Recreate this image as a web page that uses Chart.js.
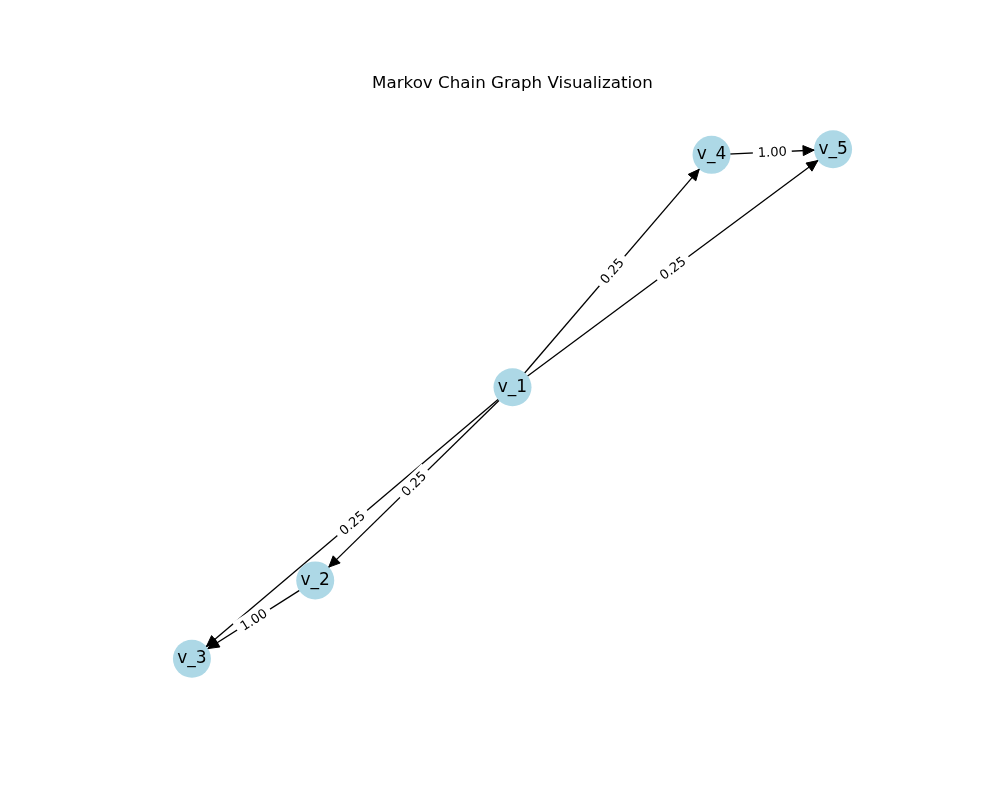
<!DOCTYPE html>
<html>
<head>
<meta charset="utf-8">
<script src="https://cdn.jsdelivr.net/npm/chart.js@4.4.0/dist/chart.umd.min.js"></script>
<style>
  html, body { margin: 0; padding: 0; background: #fff; }
  #wrap { width: 1000px; height: 800px; }
</style>
</head>
<body>
<div id="wrap"><canvas id="graphChart" width="1000" height="800"></canvas></div>
<script>
// nodes of the chain and their layout positions
const nodeNames = ["v_1", "v_2", "v_3", "v_4", "v_5"];
const nodeX = [0.00, -0.56, -0.91, 0.565, 0.91];
const nodeY = [0.06, -0.63, -0.91, 0.89, 0.91];

// transitions (index into nodeNames) and their probabilities
const edgeFrom = [0, 0, 0, 0, 1, 3];
const edgeTo = [3, 4, 1, 2, 2, 4];
const edgeProb = [0.25, 0.25, 0.25, 0.25, 1.00, 1.00];

const NODE_R = 19;
const FONT = "'DejaVu Sans', sans-serif";

const nodePoints = nodeNames.map((n, i) => ({ x: nodeX[i], y: nodeY[i] }));

const edgeSets = edgeFrom.map((f, i) => ({
    type: "scatter",
    showLine: true,
    data: [nodePoints[f], nodePoints[edgeTo[i]]],
    borderColor: "#000",
    borderWidth: 1.3,
    pointRadius: 0,
    order: 2,
}));

// arrowheads, edge labels and node names
const graphDecor = {
    id: "graphDecor",
    afterDatasetsDraw(chart) {
        const { ctx, scales } = chart;
        const px = (i) => scales.x.getPixelForValue(nodeX[i]);
        const py = (i) => scales.y.getPixelForValue(nodeY[i]);
        ctx.save();

        // arrowheads
        edgeFrom.forEach((f, i) => {
            const t = edgeTo[i];
            const x1 = px(f), y1 = py(f), x2 = px(t), y2 = py(t);
            const a = Math.atan2(y2 - y1, x2 - x1);
            const tipX = x2 - Math.cos(a) * NODE_R;
            const tipY = y2 - Math.sin(a) * NODE_R;
            const len = 11, half = 5;
            const bx = tipX - Math.cos(a) * len, by = tipY - Math.sin(a) * len;
            ctx.beginPath();
            ctx.moveTo(tipX, tipY);
            ctx.lineTo(bx - Math.sin(a) * half, by + Math.cos(a) * half);
            ctx.lineTo(bx + Math.sin(a) * half, by - Math.cos(a) * half);
            ctx.closePath();
            ctx.fillStyle = "#000";
            ctx.strokeStyle = "#000";
            ctx.lineWidth = 1;
            ctx.fill();
            ctx.stroke();
        });

        // edge labels with white box
        ctx.font = "13px " + FONT;
        ctx.textAlign = "center";
        ctx.textBaseline = "middle";
        edgeFrom.forEach((f, i) => {
            const t = edgeTo[i];
            const x1 = px(f), y1 = py(f), x2 = px(t), y2 = py(t);
            let a = Math.atan2(y2 - y1, x2 - x1);
            if (a > Math.PI / 2) a -= Math.PI;
            if (a < -Math.PI / 2) a += Math.PI;
            const txt = edgeProb[i].toFixed(2);
            const w = ctx.measureText(txt).width;
            ctx.save();
            ctx.translate((x1 + x2) / 2, (y1 + y2) / 2);
            ctx.rotate(a);
            ctx.fillStyle = "#fff";
            ctx.fillRect(-w / 2 - 5, -9, w + 10, 18);
            ctx.fillStyle = "#000";
            ctx.fillText(txt, 0, 1);
            ctx.restore();
        });

        // node labels
        ctx.font = "17px " + FONT;
        ctx.fillStyle = "#000";
        nodeNames.forEach((n, i) => {
            ctx.fillText(n, px(i), py(i));
        });
        ctx.restore();
    },
};

new Chart(document.getElementById("graphChart"), {
    type: "scatter",
    data: {
        datasets: [
            {
                data: nodePoints,
                pointRadius: NODE_R,
                pointHoverRadius: NODE_R,
                backgroundColor: "#add8e6",
                borderWidth: 0,
                order: 1,
            },
            ...edgeSets,
        ],
    },
    options: {
        responsive: false,
        animation: false,
        layout: { padding: { left: 125, right: 100, top: 0, bottom: 88 } },
        scales: {
            x: { display: false, min: -1.1, max: 1.1 },
            y: { display: false, min: -1.1, max: 1.1 },
        },
        plugins: {
            legend: { display: false },
            tooltip: { enabled: false },
            title: {
                display: true,
                text: "Markov Chain Graph Visualization",
                color: "#000",
                font: { family: FONT, size: 16.7, weight: "normal", lineHeight: 1.2 },
                padding: { top: 74, bottom: 2 },
            },
        },
    },
    plugins: [graphDecor],
});
</script>
</body>
</html>
